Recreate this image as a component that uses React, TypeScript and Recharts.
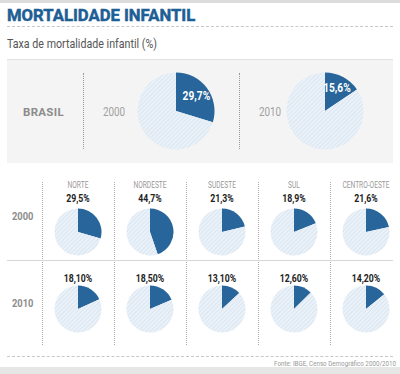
import { PieChart, Pie, Cell } from "recharts";

const DARK = "#27659b";
const TITLE = "#1d5e95";
const GRAY_TXT = "#8c8c8c";
const FONT = "Roboto, 'Noto Sans', sans-serif";

const BRASIL_YEARS = ["2000", "2010"];
const BRASIL_RATES = [29.7, 15.6];

const REGIONS = ["NORTE", "NORDESTE", "SUDESTE", "SUL", "CENTRO-OESTE"];
const ROW_YEARS = ["2000", "2010"];
const RATES_2000 = [29.5, 44.7, 21.3, 18.9, 21.6];
const RATES_2010 = [18.1, 18.5, 13.1, 12.6, 14.2];

const fmt = (v: number, digits: number) => v.toFixed(digits).replace(".", ",") + "%";

const RAD = Math.PI / 180;

function insideLabel(props: any) {
  const { cx, cy, midAngle, outerRadius, index, value } = props;
  if (index !== 0) return null;
  const r = outerRadius * 0.66;
  const x = cx + r * Math.cos(-midAngle * RAD);
  const y = cy + r * Math.sin(-midAngle * RAD);
  return (
    <text transform={`translate(${x},${y}) scale(0.85,1)`} fill="#fff" fontSize={12} fontWeight={700}
      fontFamily={FONT} textAnchor="middle" dominantBaseline="central">
      {fmt(value, 1)}
    </text>
  );
}

function RatePie({ value, size, radius, withLabel }: { value: number; size: number; radius: number; withLabel?: boolean }) {
  const data = [
    { name: "taxa", value },
    { name: "resto", value: 100 - value },
  ];
  return (
    <PieChart width={size} height={size} margin={{ top: 0, right: 0, bottom: 0, left: 0 }}>
      <Pie
        data={data}
        dataKey="value"
        cx="50%"
        cy="50%"
        outerRadius={radius}
        startAngle={90}
        endAngle={-270}
        stroke="none"
        labelLine={false}
        label={withLabel ? insideLabel : false}
        isAnimationActive={false}
      >
        <Cell fill={DARK} />
        <Cell fill="url(#hatch)" />
      </Pie>
    </PieChart>
  );
}

// condensed text: the source uses a narrow DIN-like face, so squeeze Roboto horizontally
function T({ left, top, width, align = "left", sx = 1, style, children }: {
  left: number; top: number; width?: number; align?: "left" | "center" | "right"; sx?: number;
  style?: React.CSSProperties; children: React.ReactNode;
}) {
  return (
    <div style={{
      position: "absolute", left, top, width, textAlign: align, whiteSpace: "nowrap",
      transform: `scaleX(${sx})`, transformOrigin: align === "center" ? "center" : align,
      ...style,
    }}>
      {children}
    </div>
  );
}

const abs = (left: number, top: number, extra: React.CSSProperties = {}): React.CSSProperties => ({
  position: "absolute",
  left,
  top,
  ...extra,
});

export default function App() {
  const colLeft = 42;
  const colW = 72;
  const rows = [RATES_2000, RATES_2010];
  const rowPieY = [232, 309];
  const rowValY = [199, 279];
  const rowLabelY = [217, 304];

  return (
    <div style={{ position: "absolute", left: 0, top: 0, width: 400, height: 374, background: "#fff", overflow: "hidden", fontFamily: FONT }}>
      <svg width={0} height={0} style={{ position: "absolute" }}>
        <defs>
          <pattern id="hatch" width={3} height={3} patternUnits="userSpaceOnUse" patternTransform="rotate(45)">
            <rect width={3} height={3} fill="#eaf1f8" />
            <line x1={0} y1={0} x2={0} y2={3} stroke="#d0dfed" strokeWidth={1.2} />
          </pattern>
        </defs>
      </svg>

      {/* top / bottom bands */}
      <div style={abs(0, 0, { width: 400, height: 3, background: "#dcdcdc" })} />
      <div style={abs(0, 367, { width: 400, height: 7, background: "#e6e6e6" })} />

      <T left={7} top={5} sx={0.98} style={{ fontSize: 17, fontWeight: 700, color: TITLE, lineHeight: "20px", WebkitTextStroke: `0.5px ${TITLE}` }}>
        MORTALIDADE INFANTIL
      </T>
      <div style={abs(7, 26, { width: 386, borderTop: "1px dashed #c8c8c8" })} />
      <T left={7} top={35} sx={0.79} style={{ fontSize: 13.5, color: "#555", lineHeight: "16px" }}>
        Taxa de mortalidade infantil (%)
      </T>
      <div style={abs(7, 59, { width: 386, borderTop: "1px solid #e2e2e2" })} />

      {/* Brasil panel */}
      <div style={abs(7, 60, { width: 386, height: 103, background: "#f4f4f4" })} />
      <T left={23} top={104} sx={1} style={{ fontSize: 11.5, fontWeight: 700, color: GRAY_TXT, lineHeight: "16px", letterSpacing: 0.3 }}>BRASIL</T>
      <div style={abs(83, 73, { height: 76, borderLeft: "1px dotted #999" })} />
      <div style={abs(239, 73, { height: 76, borderLeft: "1px dotted #999" })} />
      {BRASIL_YEARS.map((y, i) => (
        <T key={y} left={i === 0 ? 103 : 259} top={104} sx={0.82} style={{ fontSize: 12, color: "#a0a0a0", lineHeight: "16px" }}>{y}</T>
      ))}
      {BRASIL_RATES.map((v, i) => (
        <div key={i} style={abs(i === 0 ? 136 : 285, 71)}>
          <RatePie value={v} size={80} radius={38.5} withLabel />
        </div>
      ))}

      {/* region grid */}
      {REGIONS.map((_, i) => (
        <div key={"v" + i} style={abs(colLeft + colW * i, 182, { height: 163, borderLeft: "1px dotted #aaa" })} />
      ))}
      <div style={abs(7, 260, { width: 386, borderTop: "1px solid #d6d6d6" })} />
      <div style={abs(7, 356, { width: 386, borderTop: "1px dashed #c8c8c8" })} />

      {REGIONS.map((r, i) => (
        <T key={r} left={colLeft + colW * i} top={179} width={colW} align="center" sx={0.78}
          style={{ fontSize: 8.5, color: "#999", lineHeight: "12px" }}>{r}</T>
      ))}

      {ROW_YEARS.map((y, ri) => (
        <div key={y}>
          <T left={12} top={rowLabelY[ri] - 8} sx={0.85} style={{ fontSize: 11, fontWeight: 700, color: GRAY_TXT, lineHeight: "16px" }}>{y}</T>
          {rows[ri].map((v, i) => (
            <div key={i}>
              <T left={colLeft + colW * i} top={rowValY[ri] - 6} width={colW} align="center" sx={0.87}
                style={{ fontSize: 10, fontWeight: 700, color: "#222", lineHeight: "12px" }}>
                {fmt(v, ri === 0 ? 1 : 2)}
              </T>
              <div style={abs(colLeft + colW * i + 36 - 25, rowPieY[ri] - 25)}>
                <RatePie value={v} size={50} radius={23.5} />
              </div>
            </div>
          ))}
        </div>
      ))}

      <T left={0} top={359} width={396} align="right" sx={0.78} style={{ fontSize: 8, color: "#999", lineHeight: "10px" }}>
        Fonte: IBGE, Censo Demográfico 2000/2010
      </T>
    </div>
  );
}
